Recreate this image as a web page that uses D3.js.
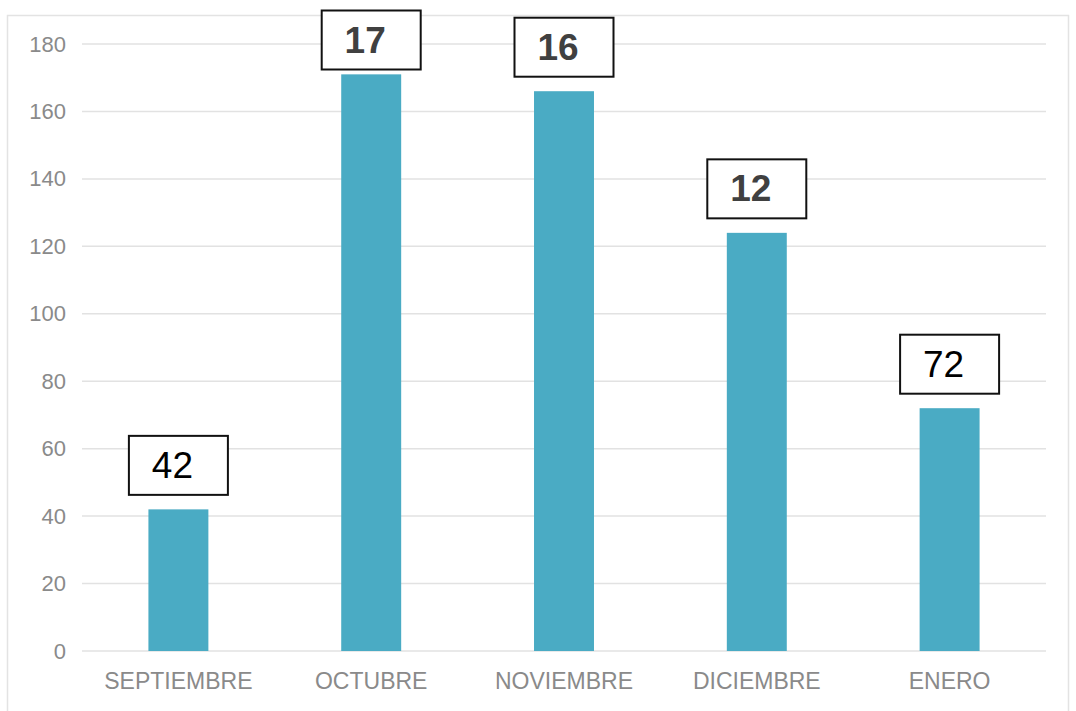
<!DOCTYPE html>
<html>
<head>
<meta charset="utf-8">
<script src="https://cdn.jsdelivr.net/npm/d3@7"></script>
<style>
  body { margin: 0; background: #fff; }
  svg { display: block; font-family: "Liberation Sans", Arial, sans-serif; }
</style>
</head>
<body>
<div id="chart"></div>
<script>
// data
var months = ["SEPTIEMBRE", "OCTUBRE", "NOVIEMBRE", "DICIEMBRE", "ENERO"];
var counts = [42, 171, 166, 124, 72];
var labelTexts = ["42", "17", "16", "12", "72"];
var labelBold = [false, true, true, true, false];
var yTicks = [0, 20, 40, 60, 80, 100, 120, 140, 160, 180];

var W = 1076, H = 711;
var margin = { top: 44, right: 30, bottom: 60, left: 82 };

var svg = d3.select("#chart").append("svg")
  .attr("width", W)
  .attr("height", H);

// outer frame of the chart area
svg.append("rect")
  .attr("x", 7.5).attr("y", 15.5)
  .attr("width", 1061).attr("height", 720)
  .attr("fill", "none")
  .attr("stroke", "#e3e3e3")
  .attr("stroke-width", 1.5);

var x = d3.scaleBand()
  .domain(months)
  .range([margin.left, 1046])
  .paddingInner(0.689)
  .paddingOuter(0.3445);

var y = d3.scaleLinear()
  .domain([0, 180])
  .range([651, 44]);

// gridlines
svg.append("g")
  .selectAll("line")
  .data(yTicks)
  .enter()
  .append("line")
  .attr("x1", margin.left)
  .attr("x2", 1046)
  .attr("y1", function(d) { return y(d); })
  .attr("y2", function(d) { return y(d); })
  .attr("stroke", "#e2e2e2")
  .attr("stroke-width", 1.5);

// y axis labels
var yAxis = svg.append("g")
  .attr("transform", "translate(" + margin.left + ",0)")
  .call(d3.axisLeft(y).tickValues(yTicks).tickSize(0).tickPadding(16));
yAxis.select(".domain").remove();
yAxis.selectAll("text")
  .attr("fill", "#8a8a8a")
  .style("font-size", "22px")
  .style("font-family", "\"Liberation Sans\", Arial, sans-serif");

// x axis labels
var xAxis = svg.append("g")
  .attr("transform", "translate(0," + y(0) + ")")
  .call(d3.axisBottom(x).tickSize(0).tickPadding(22));
xAxis.select(".domain").remove();
xAxis.selectAll("text")
  .attr("fill", "#8a8a8a")
  .style("font-size", "23px")
  .style("font-family", "\"Liberation Sans\", Arial, sans-serif");

// bars
svg.selectAll("rect.bar")
  .data(counts)
  .enter()
  .append("rect")
  .attr("class", "bar")
  .attr("x", function(d, i) { return x(months[i]); })
  .attr("y", function(d) { return y(d); })
  .attr("width", x.bandwidth())
  .attr("height", function(d) { return y(0) - y(d); })
  .attr("fill", "#4aabc4");

// label boxes above the bars
var boxW = 100, boxH = 59, gap = 15;
var labels = svg.selectAll("g.lbl")
  .data(counts)
  .enter()
  .append("g")
  .attr("class", "lbl")
  .attr("transform", function(d, i) {
    var cx = x(months[i]) + x.bandwidth() / 2;
    var top = Math.max(10, y(d) - gap - boxH);
    return "translate(" + (cx - boxW / 2) + "," + top + ")";
  });

labels.append("rect")
  .attr("x", 0.5).attr("y", 0.5)
  .attr("width", boxW - 1).attr("height", boxH)
  .attr("fill", "#fff")
  .attr("stroke", "#111")
  .attr("stroke-width", 2);

labels.append("text")
  .attr("x", boxW / 2 - 6)
  .attr("y", boxH / 2 + 13)
  .attr("text-anchor", "middle")
  .style("font-size", "37px")
  .attr("font-weight", function(d, i) { return labelBold[i] ? "bold" : "normal"; })
  .attr("fill", function(d, i) { return labelBold[i] ? "#404040" : "#000"; })
  .text(function(d, i) { return labelTexts[i]; });
</script>
</body>
</html>
